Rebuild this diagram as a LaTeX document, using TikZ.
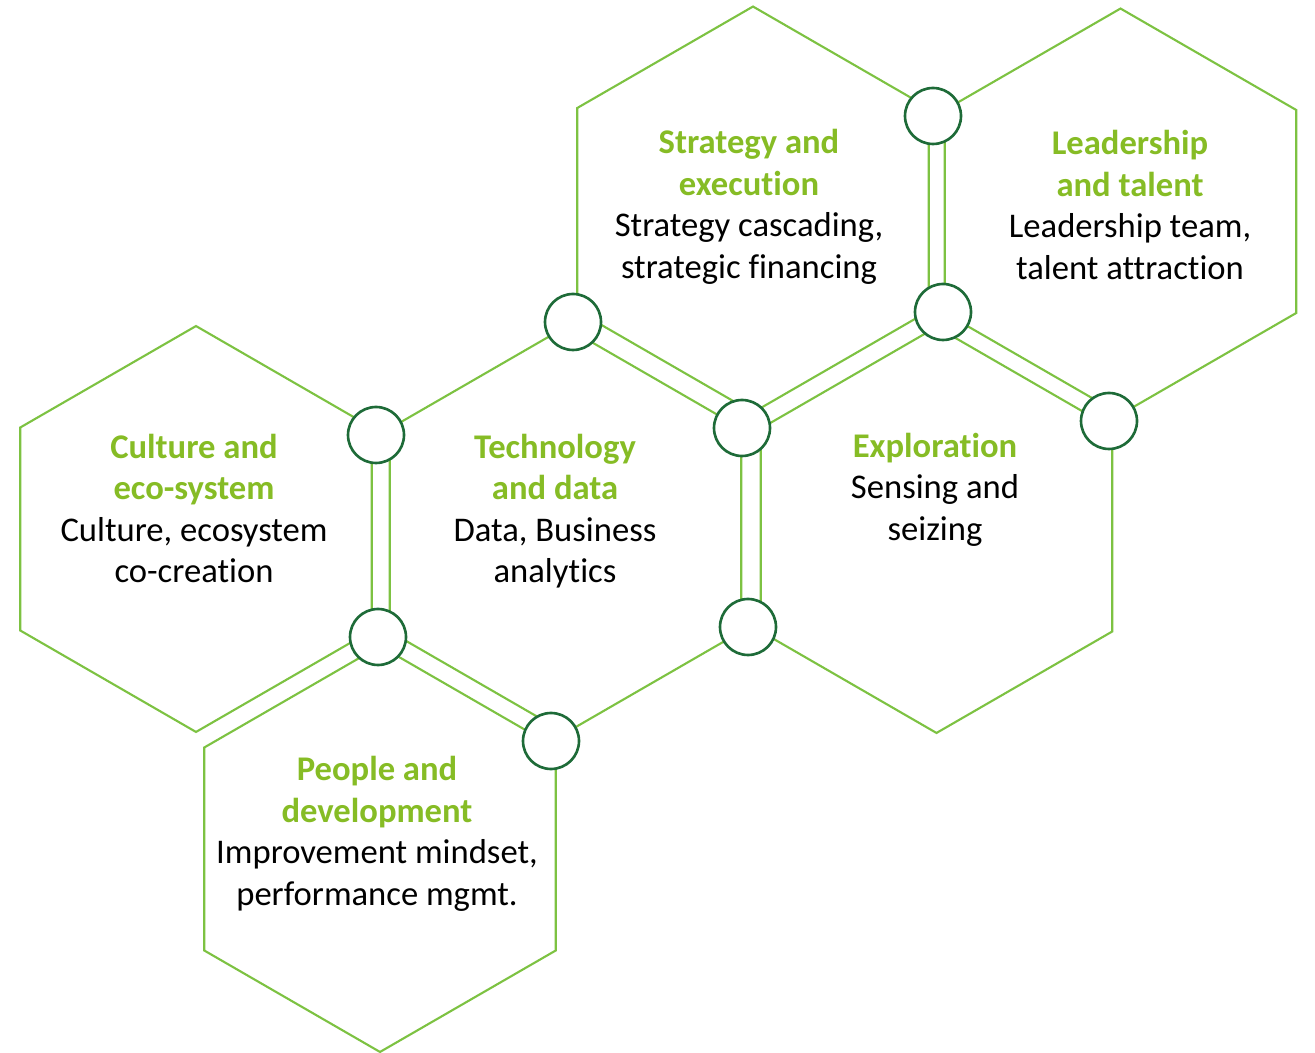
\documentclass[tikz,border=0pt]{standalone}
\usepackage{fontspec}
\setmainfont{Carlito}[Ligatures=NoCommon]
\usetikzlibrary{shapes.geometric}

\definecolor{hexgreen}{HTML}{7DC242}
\definecolor{titlegreen}{HTML}{86BC25}
\definecolor{jointgreen}{HTML}{1E6B38}

\newcommand{\hextitle}[1]{\textcolor{titlegreen}{\bfseries #1}}

\tikzset{
  hex/.style={regular polygon, regular polygon sides=6, shape border rotate=30,
    draw=hexgreen, line width=1.2pt, minimum size=8.12cm, inner sep=0pt, outer sep=0pt},
  joint/.style={circle, draw=jointgreen, fill=white, line width=1.5pt,
    minimum size=1.12cm, inner sep=0pt},
  hextext/.style={align=center, font=\fontsize{19.7}{23.6}\selectfont}
}

\begin{document}
\begin{tikzpicture}[x=0.02cm, y=-0.02cm]

  \useasboundingbox (0,0) rectangle (1315,1053);

  \node (strat) [hex] at (753,209.5) {};
  \node (lead) [hex] at (1120.5,211.5) {};
  \node (cult) [hex] at (196,529) {};
  \node (tech) [hex] at (565.5,530) {};
  \node (expl) [hex] at (936.5,530) {};
  \node (ppl) [hex] at (380,849) {};

  \node (j1) [joint] at (933,116) {};
  \node (j2) [joint] at (573,322) {};
  \node (j3) [joint] at (943,312) {};
  \node (j4) [joint] at (376,435) {};
  \node (j5) [joint] at (742,428) {};
  \node (j6) [joint] at (1109,421) {};
  \node (j7) [joint] at (378,637) {};
  \node (j8) [joint] at (748,627) {};
  \node (j9) [joint] at (551,741) {};

  \node (strattext) [hextext] at (749,207) {\hextitle{Strategy and}\\\hextitle{execution}\\Strategy cascading,\\strategic financing};
  \node (leadtext) [hextext] at (1130,205) {\hextitle{Leadership}\\\hextitle{and talent}\\Leadership team,\\talent attraction};
  \node (culttext) [hextext] at (194,508.5) {\hextitle{Culture and}\\\hextitle{eco-system}\\Culture, ecosystem\\co-creation};
  \node (techtext) [hextext] at (555,511) {\hextitle{Technology}\\\hextitle{and data}\\Data, Business\\analytics};
  \node (expltext) [hextext] at (935,489.5) {\hextitle{Exploration}\\Sensing and\\seizing};
  \node (ppltext) [hextext] at (377,834) {\hextitle{People and}\\\hextitle{development}\\Improvement mindset,\\performance mgmt.};

\end{tikzpicture}
\end{document}
